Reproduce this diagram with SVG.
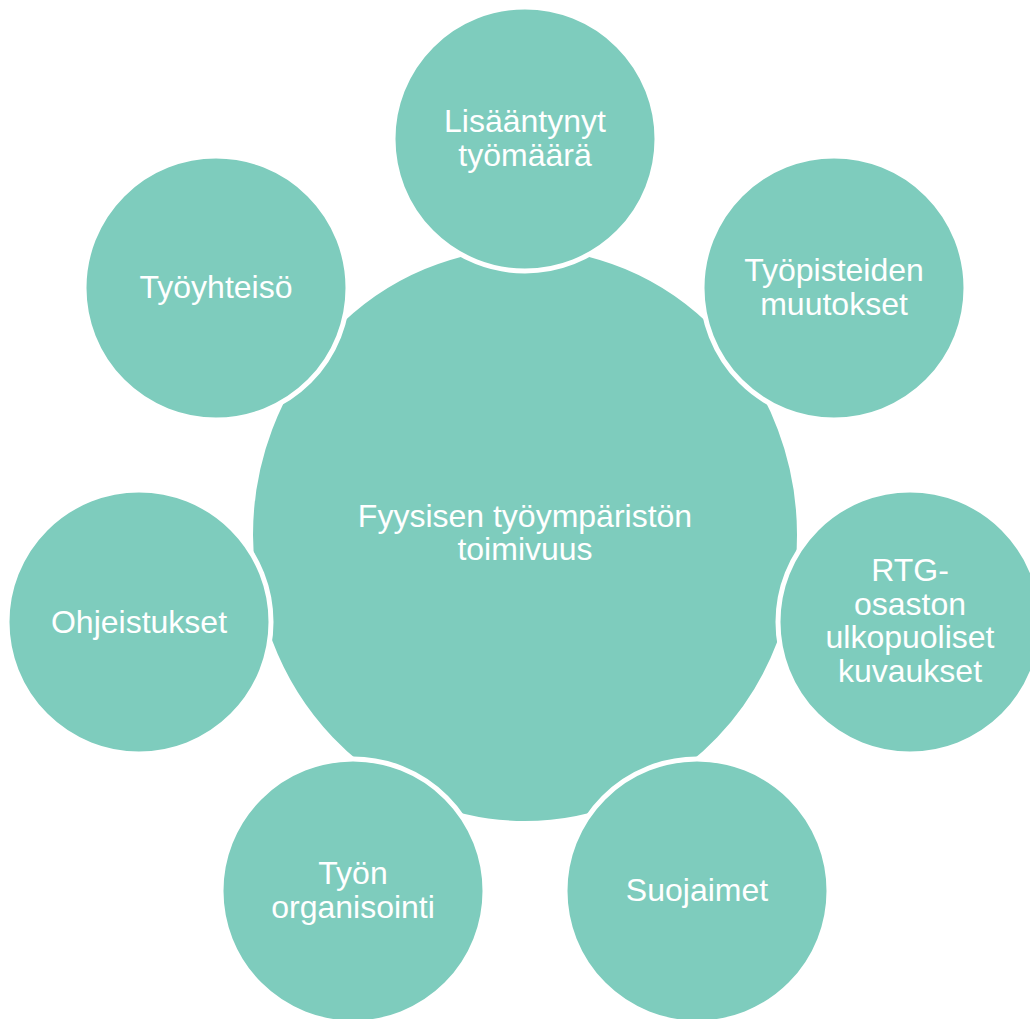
<svg xmlns="http://www.w3.org/2000/svg" width="1030" height="1019" viewBox="0 0 1030 1019">
<style>
.c{fill:#7ECCBD;stroke:#FFFFFF;stroke-width:5}
.t{font-family:"Liberation Sans",Arial,sans-serif;font-size:32px;fill:#FFFFFF;text-anchor:middle}
</style>
<rect width="1030" height="1019" fill="#FFFFFF"/>
<g id="connectors"></g>
<g id="center">
<ellipse class="c" cx="525" cy="535" rx="274.5" ry="288.5"/>
<text class="t" x="525" y="527">Fyysisen työympäristön</text>
<text class="t" x="525" y="560">toimivuus</text>
</g>
<g id="n1">
<circle class="c" cx="525" cy="139" r="132"/>
<text class="t" x="525" y="132">Lisääntynyt</text>
<text class="t" x="525" y="166">työmäärä</text>
</g>
<g id="n2">
<circle class="c" cx="834" cy="288" r="132"/>
<text class="t" x="834" y="281">Työpisteiden</text>
<text class="t" x="834" y="315">muutokset</text>
</g>
<g id="n3">
<circle class="c" cx="910" cy="622" r="132"/>
<text class="t" x="910" y="581">RTG-</text>
<text class="t" x="910" y="615">osaston</text>
<text class="t" x="910" y="648">ulkopuoliset</text>
<text class="t" x="910" y="682">kuvaukset</text>
</g>
<g id="n4">
<circle class="c" cx="697" cy="891" r="132"/>
<text class="t" x="697" y="901">Suojaimet</text>
</g>
<g id="n5">
<circle class="c" cx="353" cy="891" r="132"/>
<text class="t" x="353" y="884">Työn</text>
<text class="t" x="353" y="918">organisointi</text>
</g>
<g id="n6">
<circle class="c" cx="139" cy="622" r="132"/>
<text class="t" x="139" y="633">Ohjeistukset</text>
</g>
<g id="n7">
<circle class="c" cx="216" cy="288" r="132"/>
<text class="t" x="216" y="298">Työyhteisö</text>
</g>
</svg>
